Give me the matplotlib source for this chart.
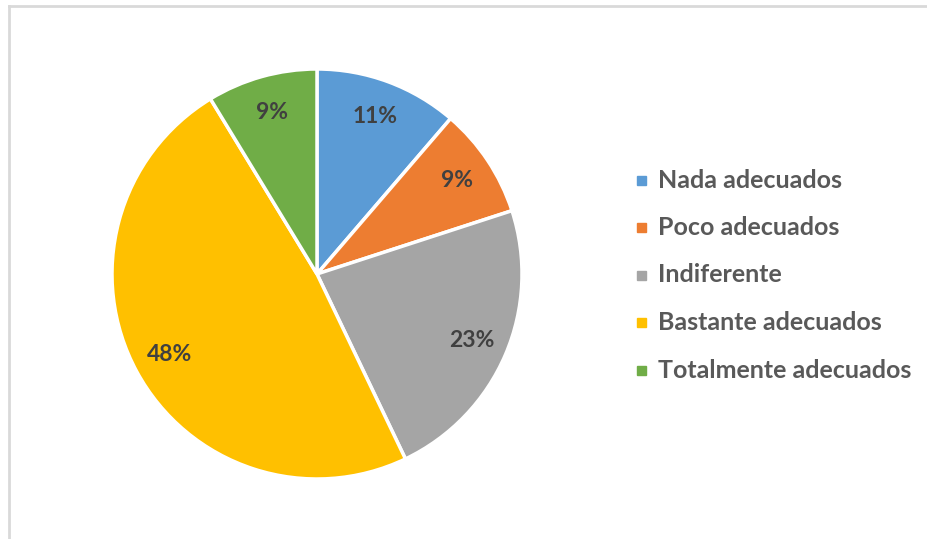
import matplotlib.pyplot as plt
from matplotlib.patches import Rectangle
from matplotlib.lines import Line2D

labels = ["Nada adecuados", "Poco adecuados", "Indiferente",
          "Bastante adecuados", "Totalmente adecuados"]
values = [11.3, 8.7, 22.9, 48.4, 8.7]
colors = ["#5B9BD5", "#ED7D31", "#A5A5A5", "#FFC000", "#70AD47"]

W, H = 927, 539
plt.rcParams["font.family"] = ["Lato", "DejaVu Sans"]
plt.rcParams["font.weight"] = "bold"


def main():
    fig = plt.figure(figsize=(W / 100, H / 100), dpi=100)

    # marco gris claro del grafico
    fig.add_artist(Line2D([9 / W, 9 / W], [0, 1 - 6 / H], color="#D9D9D9", lw=2))
    fig.add_artist(Line2D([9 / W, 1], [1 - 6 / H, 1 - 6 / H], color="#D9D9D9", lw=2))

    cx, cy, r = 317, 274, 205
    ax = fig.add_axes([(cx - r) / W, (H - cy - r) / H, 2 * r / W, 2 * r / H])
    ax.pie(values, colors=colors, startangle=90, counterclock=False,
           autopct=lambda p: f"{p:.0f}%", pctdistance=0.82,
           wedgeprops=dict(edgecolor="white", linewidth=2.5),
           textprops=dict(color="#404040", fontsize=16.5, fontweight="bold"))
    ax.set_xlim(-1, 1)
    ax.set_ylim(-1, 1)
    ax.set_aspect("equal")
    ax.axis("off")

    # leyenda a la derecha
    y0, step = 180, 47.5
    for i, (lab, col) in enumerate(zip(labels, colors)):
        y = y0 + i * step
        fig.add_artist(Rectangle((637 / W, 1 - (y + 4.5) / H), 9 / W, 9 / H,
                                 color=col, transform=fig.transFigure))
        fig.text(658 / W, 1 - y / H, lab, color="#595959", fontsize=18,
                 fontweight="bold", va="center", ha="left")

    fig.savefig("out.png", dpi=100)


if __name__ == "__main__":
    main()
